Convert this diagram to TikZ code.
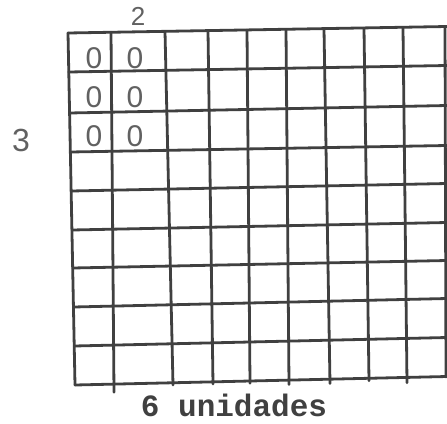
\documentclass[tikz,border=0pt]{standalone}
\usepackage{fontspec}
\setmainfont{Liberation Sans}
\setmonofont{Liberation Mono}
\usepackage{xcolor}
\usepackage{tikz}

\begin{document}
\begin{tikzpicture}[x=1pt,y=-1pt,
  gridline/.style={line width=2.8pt,black!75,line cap=round},
  hand/.style={text=black!62,font=\fontsize{30}{30}\selectfont,inner sep=0pt}]
\useasboundingbox (0,0) rectangle (447,423);
% horizontal lines: left y / right y
\foreach \yl/\yr in {33/27,72/66,113/106,152/146,191/184,230/223,268/261,307/299,346/338,385/377}
  \draw[gridline] ({68+(\yl-33)*0.02},\yl) -- (447,{\yr-0.5});
% vertical lines: top x / bottom x
\foreach \xt/\xb/\e in {68/75/0,111/114/8,165/173/2,208/213/2,247/250/2,286/289/4,324/330/4,364/369/2,403/407/5,445/446/0}
  \draw[gridline] (\xt,{33-(\xt-68)*0.016}) -- (\xb,{385-(\xb-75)*0.0216+\e});
% labels
\node[hand,font=\fontsize{26}{26}\selectfont] (two) at (138,16) {2};
\node[hand,font=\fontsize{32}{32}\selectfont] (three) at (21,140) {3};
\foreach \r/\y in {1/58,2/97,3/136}
  {\node[hand] (z\r a) at (94,\y) {0};
   \node[hand] (z\r b) at (135,\y) {0};}
\node[font=\ttfamily\bfseries\fontsize{31}{31}\selectfont,text=black!75,inner sep=0pt] (units) at (234,405) {6 unidades};
\end{tikzpicture}
\end{document}
